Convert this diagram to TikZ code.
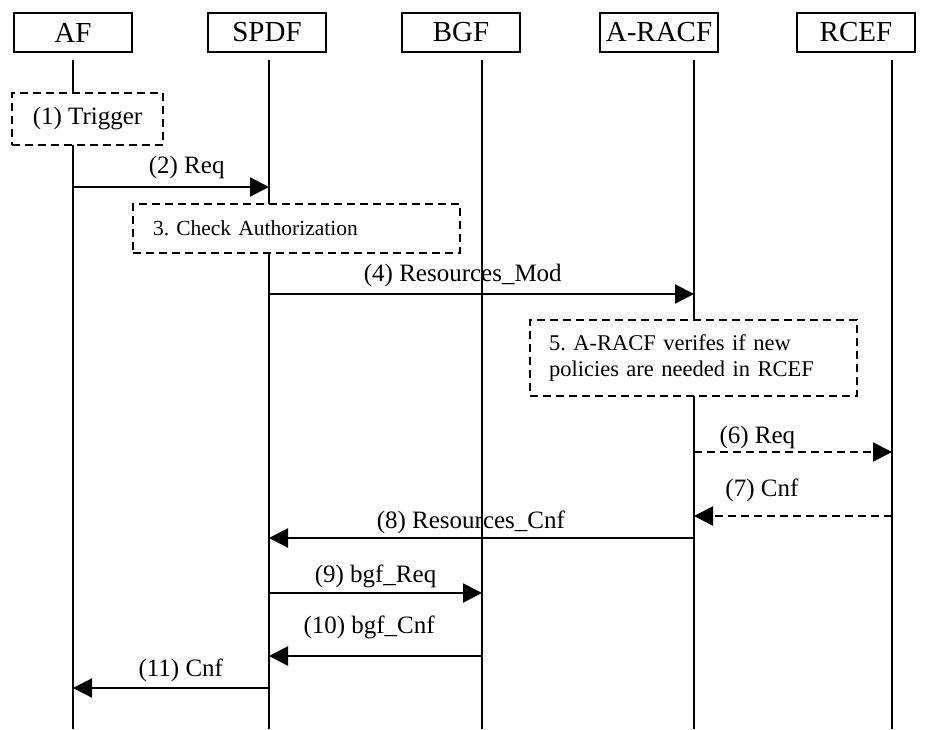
\documentclass[tikz,border=0pt]{standalone}
\usepackage{fontspec}
\setmainfont{Liberation Serif}
\usetikzlibrary{arrows.meta}
\frenchspacing

\begin{document}
\begin{tikzpicture}[x=1pt, y=-1pt, line width=1.6pt, >={Triangle[length=19pt,width=19pt]},
    actor/.style = {draw, minimum width=118pt, minimum height=39pt, inner sep=0pt, font=\fontsize{29}{31}\selectfont},
    note/.style = {draw, fill=white, dash pattern=on 8pt off 5pt, inner sep=0pt},
    msg/.style = {->, line width=2.2pt},
    lbl/.style = {inner sep=0pt, font=\fontsize{25}{28}\selectfont}]
    \useasboundingbox (0,0) rectangle (943,729);
    % entities
    \node[actor] (AF)    at (73,32.5)  {AF};
    \node[actor] (SPDF)  at (267,32.5) {SPDF};
    \node[actor] (BGF)   at (461,32.5) {BGF};
    \node[actor] (ARACF) at (659,32.5) {A-RACF};
    \node[actor] (RCEF)  at (856,32.5) {RCEF};
    % lifelines
    \coordinate (af)       at (73,60);
    \coordinate (afend)    at (73,729);
    \coordinate (spdf)     at (269,60);
    \coordinate (spdfend)  at (269,729);
    \coordinate (bgf)      at (482,60);
    \coordinate (bgfend)   at (482,729);
    \coordinate (aracf)    at (694,60);
    \coordinate (aracfend) at (694,729);
    \coordinate (rcef)     at (892,60);
    \coordinate (rcefend)  at (892,729);
    \draw (af) -- (afend);
    \draw (spdf) -- (spdfend);
    \draw (bgf) -- (bgfend);
    \draw (aracf) -- (aracfend);
    \draw (rcef) -- (rcefend);
    % local steps
    \node[note, minimum width=151pt, minimum height=52pt, font=\fontsize{25}{28}\selectfont] (trigger) at (87.5,119) {(1) Trigger};
    \node[note, text width=287pt, inner xsep=20pt, minimum height=49pt, align=left, font=\fontsize{21.5}{24}\selectfont] (check) at (296.5,228.5) {3. Check Authorization};
    \node[note, text width=289pt, inner xsep=19pt, minimum height=76pt, align=left, font=\fontsize{22.5}{26}\selectfont] (verify) at (693.5,358) {5. A-RACF verifes if new\\policies are needed in RCEF};
    % message rows
    \coordinate (r2)  at (0,187);
    \coordinate (r4)  at (0,294);
    \coordinate (r6)  at (0,452);
    \coordinate (r7)  at (0,516);
    \coordinate (r8)  at (0,538);
    \coordinate (r9)  at (0,593);
    \coordinate (r10) at (0,656);
    \coordinate (r11) at (0,688);
    % messages
    \draw[msg] (af |- r2) -- node[lbl, pos=.58, above=7pt] (l2) {(2) Req} (spdf |- r2);
    \draw[msg] (spdf |- r4) -- node[lbl, pos=.456, above=6pt] (l4) {(4) Resources\_Mod} (aracf |- r4);
    \draw[msg, dash pattern=on 8pt off 5pt] (aracf |- r6) -- node[lbl, pos=.32, above=2pt] (l6) {(6) Req} (rcef |- r6);
    \draw[msg, dash pattern=on 8pt off 5pt] (rcef |- r7) -- node[lbl, pos=.657, above=13pt] (l7) {(7) Cnf} (aracf |- r7);
    \draw[msg] (aracf |- r8) -- node[lbl, pos=.525, above=3pt] (l8) {(8) Resources\_Cnf} (spdf |- r8);
    \draw[msg] (spdf |- r9) -- node[lbl, pos=.5, above=4pt] (l9) {(9) bgf\_Req} (bgf |- r9);
    \draw[msg] (bgf |- r10) -- node[lbl, pos=.53, above=16pt] (l10) {(10) bgf\_Cnf} (spdf |- r10);
    \draw[msg] (spdf |- r11) -- node[lbl, pos=.45, above=5pt] (l11) {(11) Cnf} (af |- r11);
\end{tikzpicture}
\end{document}
